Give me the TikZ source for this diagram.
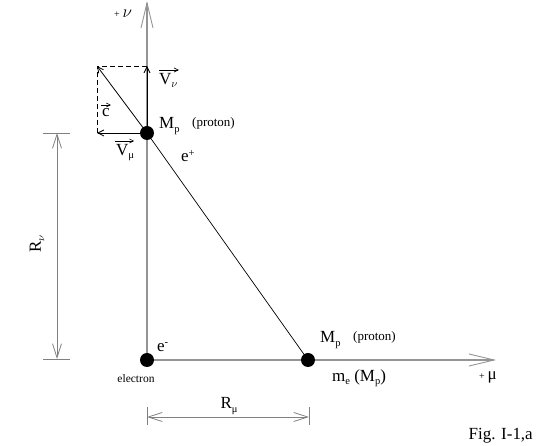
\documentclass[tikz,border=0pt]{standalone}
\usepackage{fontspec}
\setmainfont{Liberation Serif}
\usetikzlibrary{arrows.meta}
\newcommand\sbs[1]{\raisebox{-0.45ex}{\fontsize{10.5}{10.5}\selectfont #1}}
\newcommand\sps[1]{\raisebox{0.7ex}{\fontsize{10.5}{10.5}\selectfont #1}}
\tikzset{
  axisline/.style={draw=black!42, line width=1.4pt, -{Straight Barb[length=25pt,width=12pt,line width=0.9pt]}},
  dimline/.style={draw=black!50, line width=0.8pt},
  dimarrow/.style={dimline, {Straight Barb[length=14pt,width=9pt]}-{Straight Barb[length=14pt,width=9pt]}},
  vecline/.style={draw=black, line width=0.8pt, -{Straight Barb[length=6pt,width=6pt]}},
  overarrow/.style={draw=black, line width=0.6pt, -{Straight Barb[length=4pt,width=4pt]}},
  dot/.style={circle, fill=black, inner sep=0pt, minimum size=14pt},
  lbl/.style={inner sep=0pt, font=\fontsize{17}{19}\selectfont},
  small/.style={inner sep=0pt, font=\fontsize{13}{15}\selectfont},
}
\begin{document}
\begin{tikzpicture}[x=1pt,y=-1pt]
\useasboundingbox (0,0) rectangle (542,446);
% key points
\coordinate (E) at (147,360);
\coordinate (P1) at (147,133);
\coordinate (P2) at (308,360);
\coordinate (vtop) at (147,1);
\coordinate (htip) at (496,360);
\coordinate (ctip) at (97,66);
\coordinate (vnu) at (147,66);
\coordinate (vmu) at (97,133);
% axes
\draw[axisline] (E) -- (vtop);
\draw[axisline] (E) -- (htip);
% diagonal and vectors
\draw[line width=0.7pt] (P1) -- (P2);
\draw[dashed, dash pattern=on 5pt off 3pt, line width=0.7pt] (vnu) -- (ctip) -- (vmu);
\draw[vecline] (P1) -- (ctip);
\draw[vecline] (P1) -- (vnu);
\draw[vecline] (P1) -- (vmu);
% dots
\node[dot] (e) at (E) {};
\node[dot] (p1) at (P1) {};
\node[dot] (p2) at (P2) {};
% dimension R_nu
\coordinate (rnA) at (57,133);
\coordinate (rnB) at (57,359);
\draw[dimline] ([xshift=-14pt]rnA) -- ([xshift=13pt]rnA);
\draw[dimline] ([xshift=-14pt]rnB) -- ([xshift=13pt]rnB);
\draw[dimarrow] (rnA) -- (rnB);
% dimension R_mu
\coordinate (rmA) at (147,417);
\coordinate (rmB) at (309,417);
\draw[dimline] ([yshift=10pt]rmA) -- ([yshift=-8pt]rmA);
\draw[dimline] ([yshift=10pt]rmB) -- ([yshift=-8pt]rmB);
\draw[dimarrow] (rmA) -- (rmB);
% labels
\node[lbl] (lnu) at (123,14) {{\fontsize{10}{10}\selectfont +}\,$\nu$};
\node[lbl, anchor=north west] (lvnu) at (159,73) {V\sbs{$\nu$}};
\draw[overarrow] ([yshift=3pt]lvnu.north west) -- ([yshift=3pt,xshift=1pt]lvnu.north east);
\node[lbl, anchor=north] (lc) at (106,108) {c};
\draw[overarrow] ([yshift=3pt,xshift=-1pt]lc.north west) -- ([yshift=3pt,xshift=1pt]lc.north east);
\node[lbl, anchor=west] (lmp1) at (159,126) {M\sbs{p}};
\node[small, anchor=west] (lpr1) at (192,123) {(proton)};
\node[lbl, anchor=north] (lvmu) at (125,144) {V\sbs{μ}};
\draw[overarrow] ([yshift=3pt,xshift=-1pt]lvmu.north west) -- ([yshift=3pt]lvmu.north east);
\node[lbl, anchor=west] (lep) at (181,156) {e\sps{+}};
\node[lbl, rotate=90] (lrnu) at (37,244) {R\sbs{$\nu$}};
\node[lbl, anchor=west] (lem) at (157,347) {e\sps{-}};
\node[small, font=\fontsize{11.5}{13}\selectfont] (lel) at (136,379) {electron};
\node[lbl, anchor=west] (lmp2) at (320,340) {M\sbs{p}};
\node[small, anchor=west] (lpr2) at (353,337) {(proton)};
\node[lbl, anchor=west] (lme) at (332,378) {m\sbs{e} (M\sbs{p})};
\node[lbl] (lmu) at (488,377) {{\fontsize{10}{10}\selectfont +}\,μ};
\node[lbl] (lrmu) at (229,406) {R\sbs{μ}};
\node[lbl, anchor=east] (lfig) at (533,436) {Fig. I-1,a};
\end{tikzpicture}
\end{document}
